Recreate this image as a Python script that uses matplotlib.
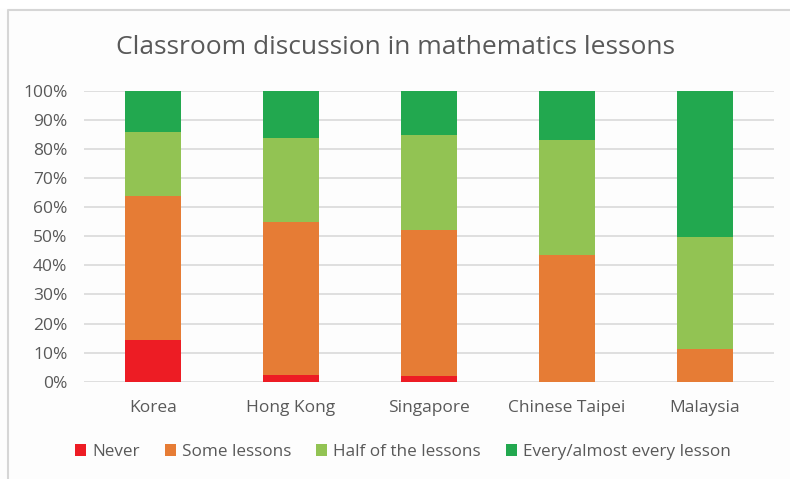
import numpy as np
import matplotlib
matplotlib.use('Agg')
import matplotlib.pyplot as plt
from matplotlib.lines import Line2D

# Data (percent of students)
countries = ['Korea', 'Hong Kong', 'Singapore', 'Chinese Taipei', 'Malaysia']
series_names = ['Never', 'Some lessons', 'Half of the lessons', 'Every/almost every lesson']
never = [14.4, 2.4, 2.0, 0.0, 0.0]
some = [49.4, 52.4, 50.3, 43.7, 11.4]
half = [22.0, 29.0, 32.5, 39.6, 38.4]
every = [14.2, 16.2, 15.2, 16.7, 50.2]
colors = ['#ED1C24', '#E67C35', '#92C353', '#22A84F']

plt.rcParams['font.family'] = ['Open Sans', 'DejaVu Sans']

fig = plt.figure(figsize=(7.9, 4.79), dpi=100)
fig.patch.set_facecolor('#fdfdfd')

# light frame (left and top edges visible)
fl = 8 / 790
ft = 1 - 10 / 479
fig.add_artist(Line2D([fl, fl, 1.0], [0.0, ft, ft], transform=fig.transFigure,
                      color='#d6d6d6', linewidth=1.5))
fig.add_artist(Line2D([0, 1], [1 - 4 / 479, 1 - 4 / 479], transform=fig.transFigure,
                      color='white', linewidth=7, zorder=-1))

ax = fig.add_axes([84 / 790, 1 - 381.7 / 479, 690 / 790, (381.7 - 91) / 479])
ax.set_facecolor('none')

x = np.arange(len(countries))
bottom = np.zeros(len(countries))
for name, vals, col in zip(series_names, [never, some, half, every], colors):
    ax.bar(x, vals, width=0.4, bottom=bottom, color=col, label=name, zorder=3)
    bottom += np.array(vals)

ax.set_xlim(-0.5, len(countries) - 0.5)
ax.set_ylim(0, 100)
ax.set_yticks(np.arange(0, 101, 10))
ax.set_yticklabels([f'{v}%' for v in range(0, 101, 10)])
ax.set_xticks(x)
ax.set_xticklabels(countries)
ax.tick_params(axis='both', length=0, labelsize=12.5, colors='#595959')
ax.tick_params(axis='y', pad=12)
ax.tick_params(axis='x', pad=13)
ax.grid(axis='y', color='#d9d9d9', linewidth=1.2, zorder=0)
for s in ax.spines.values():
    s.set_visible(False)

fig.text(0.5, 1 - 47 / 479, 'Classroom discussion in mathematics lessons',
         ha='center', va='center', fontsize=19, color='#595959')

leg = ax.legend(loc='center', bbox_to_anchor=(0.51, 1 - 452 / 479), bbox_transform=fig.transFigure,
                ncol=4, frameon=False, fontsize=12.3, handlelength=0.65, handleheight=0.65,
                handletextpad=0.35, columnspacing=1.45)
for t in leg.get_texts():
    t.set_color('#595959')

fig.savefig('out.png', dpi=100, facecolor=fig.get_facecolor())
